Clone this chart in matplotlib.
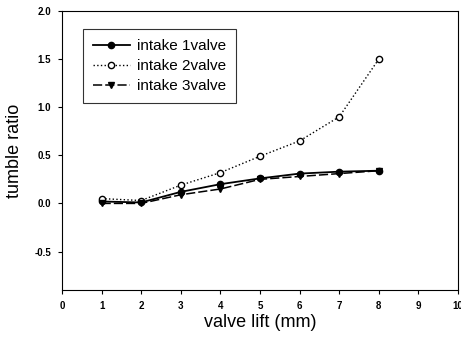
import matplotlib
matplotlib.use("Agg")
import matplotlib.pyplot as plt

plt.rcParams['font.family'] = ['Liberation Sans', 'DejaVu Sans']

lift = [1, 2, 3, 4, 5, 6, 7, 8]
valve1 = [0.02, 0.01, 0.12, 0.20, 0.26, 0.31, 0.33, 0.34]
valve2 = [0.05, 0.03, 0.19, 0.32, 0.49, 0.65, 0.90, 1.50]
valve3 = [0.00, 0.00, 0.09, 0.15, 0.25, 0.28, 0.31, 0.34]
labels = ["intake 1valve", "intake 2valve", "intake 3valve"]
xticks = list(range(0, 11))
yticks = [-0.5, 0.0, 0.5, 1.0, 1.5, 2.0]

fig = plt.figure(figsize=(4.61, 3.46), dpi=100)
ax = fig.add_axes([62/461, 1-290/346, (458-62)/461, (290-11)/346])

ax.plot(lift, valve1, '-', color='black', lw=1.3, marker='o', ms=4.5, label=labels[0])
ax.plot(lift, valve2, ':', color='black', lw=1.0, marker='o', ms=4.5, mfc='white', label=labels[1])
ax.plot(lift, valve3, '--', color='black', lw=1.1, marker='v', ms=4.5, label=labels[2], dashes=(6, 2))

ax.set_xlim(0, 10)
ax.set_ylim(-0.9, 2.0)
ax.set_xticks(xticks)
ax.set_yticks(yticks)
ax.set_yticklabels([f"{v:.1f}" for v in yticks])
ax.tick_params(direction='out', length=3, width=0.8, labelsize=7, pad=5)
for lab in ax.get_xticklabels() + ax.get_yticklabels():
    lab.set_fontweight('bold')
for s in ax.spines.values():
    s.set_linewidth(0.8)

ax.set_xlabel("valve lift (mm)", fontsize=13, labelpad=2)
ax.set_ylabel("tumble ratio", fontsize=13, labelpad=8)

leg = ax.legend(loc='upper left', bbox_to_anchor=(21/396, 1-18/279), fontsize=11,
                frameon=True, fancybox=False, edgecolor='black', handlelength=2.4,
                borderpad=0.65, labelspacing=0.4, handletextpad=0.5, borderaxespad=0)
leg.get_frame().set_linewidth(0.8)

fig.savefig("out.png", dpi=100)
